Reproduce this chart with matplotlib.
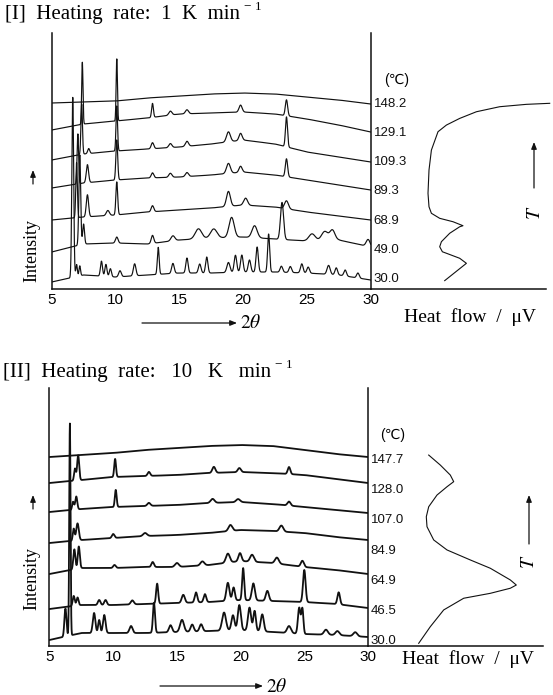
import numpy as np
import matplotlib
matplotlib.use("Agg")
import matplotlib.pyplot as plt

plt.rcParams["mathtext.fontset"] = "stix"

W, H = 553, 695
SERIF = "Liberation Serif"
SANS = ["Liberation Sans", "DejaVu Sans"]
INK = "#111111"

# 2theta positions where the background of every pattern was read
tt_anchor = [5, 7.5, 10, 12.5, 15, 17.5, 20, 22.5, 25, 27.5, 30]

# ---- [I] 1 K/min ----
temps1 = ["30.0", "49.0", "68.9", "89.3", "109.3", "129.1", "148.2"]
base1 = [
    [7, 14, 12, 14, 16, 16, 17, 17, 16, 14, 9],
    [37, 45, 46, 45, 49, 51, 52, 50, 48, 49, 42],
    [69, 72, 74, 77, 79, 81, 84, 82, 77, 73, 69],
    [101, 106, 109, 111, 112, 114, 117, 114, 109, 104, 99],
    [129, 135, 138, 140, 142, 145, 149, 145, 137, 132, 127],
    [159, 165, 168, 171, 175, 176, 177, 175, 170, 164, 157],
    [186, 187, 188, 191, 193, 195, 196, 195, 192, 189, 185],
]
# (2theta, height, width)
peaks1 = [
    [(6.65, 180, .07), (6.95, 12, .06), (7.2, 10, .06), (8.9, 15, .08), (9.25, 12, .08),
     (9.6, 8, .08), (10.35, 6, .1), (11.5, 12, .1), (13.35, 27, .07), (14.5, 10, .1),
     (15.6, 15, .09), (16.6, 9, .1), (17.15, 16, .09), (18.85, 10, .12), (19.4, 17, .1),
     (19.9, 17, .1), (20.5, 12, .1), (21.1, 25, .09), (22.0, 38, .08), (23.0, 6, .1),
     (23.7, 6, .1), (24.6, 9, .1), (25.1, 6, .1), (26.7, 9, .12), (27.3, 7, .1),
     (28.0, 6, .1), (29.0, 5, .1)],
    [(7.2, 90, .07), (7.5, 20, .07), (10.1, 6, .1), (12.9, 8, .1), (14.5, 5, .15),
     (16.5, 10, .25), (17.7, 9, .25), (19.1, 20, .2), (20.9, 12, .2), (23.05, 37, .12),
     (25.4, 7, .25), (26.4, 9, .25), (27.0, 10, .2), (29.8, 7, .15)],
    [(6.95, 55, .06), (7.8, 22, .09), (9.4, 5, .12), (10.1, 33, .07), (12.9, 6, .1),
     (18.85, 15, .15), (20.2, 7, .15), (23.4, 8, .15)],
    [(7.05, 50, .06), (7.8, 18, .09), (10.1, 40, .07), (12.9, 5, .1), (14.3, 4, .12),
     (15.6, 4, .12), (18.85, 10, .15), (19.8, 6, .12), (23.4, 18, .09)],
    [(7.35, 50, .06), (7.9, 5, .08), (10.1, 45, .06), (12.9, 6, .1), (14.3, 4, .12),
     (15.6, 5, .12), (18.85, 10, .15), (19.8, 7, .12), (23.4, 30, .08)],
    [(7.4, 62, .05), (10.1, 62, .05), (12.9, 14, .07), (14.3, 4, .12), (15.6, 4, .12),
     (19.8, 7, .12), (23.4, 16, .09)],
    [],
]
dsc1_hf = [74, 95.7, 89, 75.7, 71.7, 69, 70.7, 79, 89, 92.3, 82.3, 69, 60.7, 58.3,
           57.3, 58.3, 60.7, 67.3, 75.7, 89, 105.7, 129, 155.7, 179]
dsc1_T = [28.9, 40.6, 44.0, 47.4, 48.4, 51.8, 55.2, 60.9, 65.3, 66.0, 68.7, 71.0, 74.4,
          78.8, 87.9, 103.6, 117.1, 129.5, 134.0, 138.5, 143.0, 146.4, 148.0, 148.7]

# ---- [II] 10 K/min ----
temps2 = ["30.0", "46.5", "64.9", "84.9", "107.0", "128.0", "147.7"]
base2 = [
    [6, 13, 13, 13, 14, 15, 16, 14, 12, 11, 9],
    [37, 41, 41, 42, 43, 44, 46, 45, 44, 42, 38],
    [72, 78, 78, 79, 79, 81, 85, 83, 79, 76, 72],
    [103, 106, 108, 110, 111, 113, 116, 115, 113, 109, 106],
    [134, 137, 139, 140, 141, 143, 144, 142, 139, 136, 133],
    [163, 166, 169, 170, 171, 173, 174, 173, 171, 167, 163],
    [189, 191, 193, 196, 198, 200, 201, 200, 196, 192, 189],
]
peaks2 = [
    [(6.25, 28, .08), (6.6, 212, .05), (8.5, 20, .1), (8.9, 13, .08), (9.3, 18, .1),
     (11.4, 7, .12), (13.2, 30, .08), (14.5, 7, .12), (15.4, 12, .15), (16.2, 7, .12),
     (16.9, 7, .12), (18.7, 18, .15), (19.4, 15, .12), (19.9, 25, .12), (20.7, 23, .12),
     (21.1, 20, .1), (21.7, 17, .12), (23.8, 7, .15), (24.6, 26, .1), (24.85, 25, .08),
     (26.7, 5, .15), (27.6, 4, .15), (29.0, 4, .15)],
    [(6.9, 10, .08), (7.2, 8, .08), (8.9, 5, .1), (9.4, 5, .1), (11.5, 4, .12),
     (13.45, 20, .08), (15.5, 8, .12), (16.5, 10, .1), (17.2, 8, .1), (19.0, 18, .12),
     (19.45, 13, .1), (20.2, 32, .08), (21.0, 17, .12), (22.1, 10, .12), (25.0, 32, .1),
     (27.7, 12, .1)],
    [(6.95, 20, .08), (7.3, 22, .08), (10.1, 3, .1), (13.1, 5, .1), (15.0, 4, .15),
     (17.0, 4, .15), (19.0, 9, .15), (19.95, 8, .12), (20.9, 7, .15), (22.85, 6, .15),
     (24.85, 6, .12)],
    [(6.9, 12, .07), (7.2, 17, .1), (10.0, 4, .1), (12.5, 3, .15), (19.2, 6, .15),
     (23.2, 6, .15)],
    [(6.85, 8, .07), (7.1, 13, .08), (10.2, 17, .07), (12.8, 3, .12), (17.8, 4, .15),
     (19.8, 3, .15), (23.8, 4, .12)],
    [(7.0, 12, .07), (7.25, 25, .08), (10.15, 18, .07), (12.8, 4, .1), (17.9, 6, .12),
     (19.9, 4, .12), (23.8, 7, .1)],
    [],
]
dsc2_hf = [50.7, 62.3, 75.7, 95.7, 122.3, 142.3, 148.3, 142.3, 122.3, 102.3, 79, 65.7,
           59, 58.3, 60.7, 69, 79, 85.7, 82.3, 72.3, 60.7]
dsc2_T = [28.5, 39.3, 50.2, 57.8, 61.0, 64.3, 66.4, 69.7, 77.3, 82.7, 89.2, 95.7, 104.3,
          110.8, 117.3, 124.9, 130.3, 133.6, 137.9, 144.4, 150.9]

tt = np.linspace(5, 30, 3000)


def pattern(base, peaks):
    y = np.interp(tt, tt_anchor, base)
    for pos, h, w in peaks:
        y = y + h * np.exp(-0.5 * ((tt - pos) / w) ** 2)
    return y


def box(l, t, r, b):
    return [l / W, 1 - b / H, (r - l) / W, (b - t) / H]


def ftext(x, y, s, **kw):
    return fig.text(x / W, 1 - y / H, s, **kw)


def farrow(x0, y0, x1, y1):
    fig.add_artist(matplotlib.patches.FancyArrowPatch(
        (x0 / W, 1 - y0 / H), (x1 / W, 1 - y1 / H), transform=fig.transFigure,
        arrowstyle="-|>,head_length=4,head_width=1.6", color=INK, lw=0.9,
        shrinkA=0, shrinkB=0))


def panel(xrd_box, dsc_box, ymax, base, peaks, temps, lab_y, dsc_hf, dsc_T, T_lim, lw):
    ax = fig.add_axes(box(*xrd_box))
    for b, p in zip(base, peaks):
        ax.plot(tt, pattern(b, p), color=INK, lw=lw)
    ax.set_xlim(5, 30)
    ax.set_ylim(0, ymax)
    ax.set_xticks([5, 10, 15, 20, 25, 30])
    ax.set_xticklabels(["5", "10", "15", "20", "25", "30"], family=SANS, fontsize=11)
    ax.tick_params(axis="x", length=0, pad=3)
    ax.set_yticks([])
    ax.spines["top"].set_visible(False)
    for s in ["left", "right", "bottom"]:
        ax.spines[s].set_linewidth(1.1)
        ax.spines[s].set_color(INK)
    for lab, y in zip(temps, np.linspace(lab_y[0], lab_y[1], len(temps))):
        ax.annotate(lab, xy=(1, y), xycoords=("axes fraction", "data"),
                    xytext=(2, 0), textcoords="offset points", va="center",
                    ha="left", family=SANS, fontsize=9.5, color=INK)

    dx = fig.add_axes(box(*dsc_box))
    dx.plot(dsc_hf, dsc_T, color=INK, lw=0.8, clip_on=False)
    dx.set_xlim(0, dsc_box[2] - dsc_box[0])
    dx.set_ylim(*T_lim)
    dx.set_xticks([])
    dx.set_yticks([])
    for s in ["left", "right", "top"]:
        dx.spines[s].set_visible(False)
    dx.spines["bottom"].set_bounds(0, 175)
    dx.spines["bottom"].set_linewidth(1.1)
    dx.spines["bottom"].set_color(INK)
    dx.patch.set_alpha(0)
    return ax


fig = plt.figure(figsize=(W / 100, H / 100), dpi=100)

ax1 = panel((51.7, 33, 370.7, 289), (370.7, 33, 553, 289), 256, base1, peaks1, temps1,
            (10, 185), dsc1_hf, dsc1_T, (23.25, 196.2), 0.85)
ax2 = panel((49.5, 388, 368, 646), (368, 388, 553, 646), 258, base2, peaks2, temps2,
            (5, 186), dsc2_hf, dsc2_T, (26.75, 194.5), 1.3)

# panel titles with superscript unit
t1 = ftext(5, 15, "[I]  Heating  rate:  1  K  min", family=SERIF, fontsize=15,
           va="center", ha="left")
ax1.annotate("\u2212 1", xy=(1, 0.62), xycoords=t1, xytext=(3, 0),
             textcoords="offset points", family=SERIF, fontsize=9.5,
             va="bottom", ha="left", annotation_clip=False)
t2 = ftext(3, 373, "[II]  Heating  rate:   10   K   min", family=SERIF, fontsize=15,
           va="center", ha="left")
ax2.annotate("\u2212 1", xy=(1, 0.62), xycoords=t2, xytext=(3, 0),
             textcoords="offset points", family=SERIF, fontsize=9.5,
             va="bottom", ha="left", annotation_clip=False)

# unit headers
ftext(397, 80, "(℃)", family=SANS, fontsize=10, va="center", ha="center")
ftext(393, 435, "(℃)", family=SANS, fontsize=10, va="center", ha="center")

# intensity labels
ftext(32, 250, "Intensity", family=SERIF, fontsize=13, rotation=90,
      va="center", ha="center")
ftext(32, 578, "Intensity", family=SERIF, fontsize=13, rotation=90,
      va="center", ha="center")
farrow(33, 184, 33, 170)
farrow(33, 509, 33, 495)

# 2theta arrows
farrow(142, 323, 237, 323)
ftext(240, 323, r"$2\theta$", fontsize=14, va="center", ha="left")
farrow(160, 686, 263, 686)
ftext(266, 686, r"$2\theta$", fontsize=14, va="center", ha="left")

# heat flow labels
ftext(470, 317, "Heat  flow  /  \u03bcV", family=SERIF, fontsize=14,
      va="center", ha="center")
ftext(468, 659, "Heat  flow  /  \u03bcV", family=SERIF, fontsize=14,
      va="center", ha="center")

# temperature arrows
farrow(534, 188, 534, 142)
ftext(534, 213, r"$T$", fontsize=14, rotation=90, va="center", ha="center")
farrow(529, 544, 529, 495)
ftext(529, 562, r"$T$", fontsize=14, rotation=90, va="center", ha="center")

fig.savefig("out.png", dpi=100)
